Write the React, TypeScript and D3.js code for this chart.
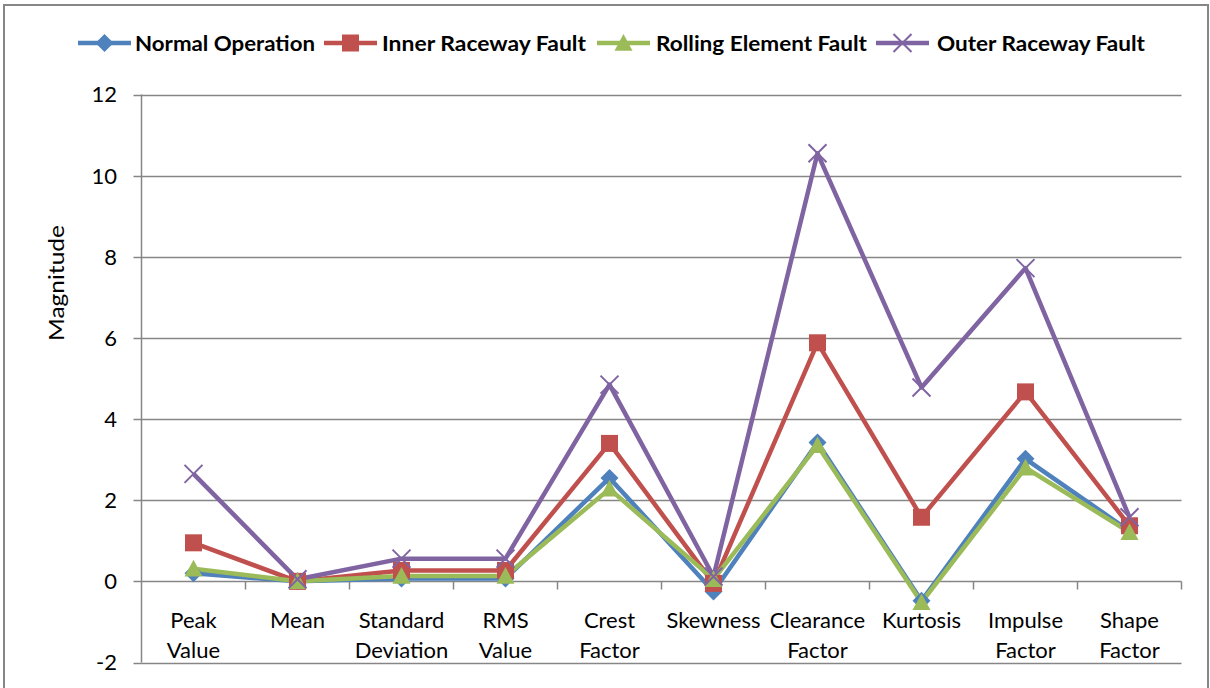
import React from "react";
import * as d3 from "d3";

const categories: string[][] = [
  ["Peak", "Value"],
  ["Mean"],
  ["Standard", "Deviation"],
  ["RMS", "Value"],
  ["Crest", "Factor"],
  ["Skewness"],
  ["Clearance", "Factor"],
  ["Kurtosis"],
  ["Impulse", "Factor"],
  ["Shape", "Factor"],
];

const normalOperation = [0.2, 0.0, 0.07, 0.07, 2.55, -0.25, 3.42, -0.48, 3.02, 1.24];
const innerRacewayFault = [0.95, 0.0, 0.27, 0.27, 3.4, -0.05, 5.88, 1.58, 4.67, 1.37];
const rollingElementFault = [0.31, 0.0, 0.13, 0.13, 2.28, 0.05, 3.35, -0.52, 2.8, 1.21];
const outerRacewayFault = [2.65, 0.05, 0.56, 0.56, 4.85, 0.12, 10.55, 4.78, 7.72, 1.58];

const yTicks = [-2, 0, 2, 4, 6, 8, 10, 12];

type Marker = "diamond" | "square" | "triangle" | "x";
const series: { name: string; values: number[]; color: string; marker: Marker }[] = [
  { name: "Normal Operation", values: normalOperation, color: "#4F81BD", marker: "diamond" },
  { name: "Inner Raceway Fault", values: innerRacewayFault, color: "#C0504D", marker: "square" },
  { name: "Rolling Element Fault", values: rollingElementFault, color: "#9BBB59", marker: "triangle" },
  { name: "Outer Raceway Fault", values: outerRacewayFault, color: "#8064A2", marker: "x" },
];

const FONT = "Lato, 'Liberation Sans', sans-serif";

function MarkerShape({ type, x, y, color }: { type: Marker; x: number; y: number; color: string }) {
  if (type === "diamond") {
    const s = 9;
    return <path d={`M${x},${y - s}L${x + s},${y}L${x},${y + s}L${x - s},${y}Z`} fill={color} />;
  }
  if (type === "square") {
    const s = 8.5;
    return <rect x={x - s} y={y - s} width={2 * s} height={2 * s} fill={color} />;
  }
  if (type === "triangle") {
    const s = 9;
    return <path d={`M${x},${y - s}L${x + s},${y + s * 0.85}L${x - s},${y + s * 0.85}Z`} fill={color} />;
  }
  const s = 9;
  return (
    <path
      d={`M${x - s},${y - s}L${x + s},${y + s}M${x + s},${y - s}L${x - s},${y + s}`}
      stroke={color}
      strokeWidth={2}
      fill="none"
    />
  );
}

export default function App() {
  const W = 1210;
  const H = 688;
  const left = 141.5;
  const right = 1181.5;
  const top = 94.5;
  const bottom = 662.5;

  const x = d3
    .scaleBand<number>()
    .domain(categories.map((_, i) => i))
    .range([left, right])
    .paddingInner(0)
    .paddingOuter(0);
  const y = d3.scaleLinear().domain([-2, 12]).range([bottom, top]);
  const cx = (i: number) => (x(i) as number) + x.bandwidth() / 2;

  const line = d3
    .line<number>()
    .x((_, i) => cx(i))
    .y((d) => y(d));

  const gridColor = "#868686";
  const y0 = Math.round(y(0)) + 0.5;

  const legendItems = [
    { lx: 78, tx: 135, tw: 180 },
    { lx: 324, tx: 382, tw: 204 },
    { lx: 597, tx: 656, tw: 211 },
    { lx: 876, tx: 937, tw: 208 },
  ];

  return (
    <svg width={W} height={H} style={{ display: "block", position: "absolute", left: 0, top: 0 }}>
      <rect x={0} y={0} width={W} height={H} fill="#fff" />
      <rect x={4} y={5} width={1204} height={700} fill="#fff" stroke={gridColor} strokeWidth={2} />

      {/* gridlines */}
      {yTicks.map((t) => (
        <line
          key={t}
          x1={left - 8}
          x2={t === 0 ? left : right}
          y1={Math.round(y(t)) + 0.5}
          y2={Math.round(y(t)) + 0.5}
          stroke={gridColor}
          strokeWidth={1.5}
        />
      ))}
      {/* y axis */}
      <line x1={left} x2={left} y1={top} y2={bottom} stroke={gridColor} strokeWidth={1.5} />
      {/* x axis at 0 */}
      <line x1={left} x2={right} y1={y0} y2={y0} stroke={gridColor} strokeWidth={1.5} />
      {categories.map((_, i) => (
        <line
          key={i}
          x1={(x(i) as number) + x.bandwidth()}
          x2={(x(i) as number) + x.bandwidth()}
          y1={y0}
          y2={y0 + 8}
          stroke={gridColor}
          strokeWidth={1.5}
        />
      ))}

      {/* y tick labels */}
      {yTicks.map((t) => (
        <text
          key={t}
          x={117}
          y={y(t)}
          dy="0.36em"
          textAnchor="end"
          fontFamily={FONT}
          fontSize={22}
          fill="#000"
        >
          {t}
        </text>
      ))}

      {/* y axis title */}
      <text
        transform={`translate(64,283) rotate(-90)`}
        textAnchor="middle"
        fontFamily={FONT}
        fontSize={22}
        textLength={116}
        lengthAdjust="spacingAndGlyphs"
        fill="#000"
      >
        Magnitude
      </text>

      {/* x category labels */}
      {categories.map((lines, i) => (
        <text key={i} textAnchor="middle" fontFamily={FONT} fontSize={22} fill="#000">
          {lines.map((l, j) => (
            <tspan key={j} x={cx(i)} y={628 + j * 30}>
              {l}
            </tspan>
          ))}
        </text>
      ))}

      {/* series lines */}
      {series.map((s) => (
        <path
          key={s.name}
          d={line(s.values) || ""}
          fill="none"
          stroke={s.color}
          strokeWidth={4.5}
          strokeLinejoin="round"
        />
      ))}
      {/* series markers */}
      {series.map((s) => (
        <g key={s.name + "m"}>
          {s.values.map((v, i) => (
            <MarkerShape key={i} type={s.marker} x={cx(i)} y={y(v)} color={s.color} />
          ))}
        </g>
      ))}

      {/* legend */}
      {series.map((s, k) => {
        const it = legendItems[k];
        const ly = 43;
        return (
          <g key={s.name + "l"}>
            <line x1={it.lx} x2={it.lx + 53} y1={ly} y2={ly} stroke={s.color} strokeWidth={4.5} />
            <MarkerShape type={s.marker} x={it.lx + 26.5} y={ly} color={s.color} />
            <text
              x={it.tx}
              y={ly}
              dy="0.36em"
              fontFamily={FONT}
              fontWeight="bold"
              fontSize={21}
              textLength={it.tw}
              lengthAdjust="spacingAndGlyphs"
              fill="#000"
            >
              {s.name}
            </text>
          </g>
        );
      })}
    </svg>
  );
}
